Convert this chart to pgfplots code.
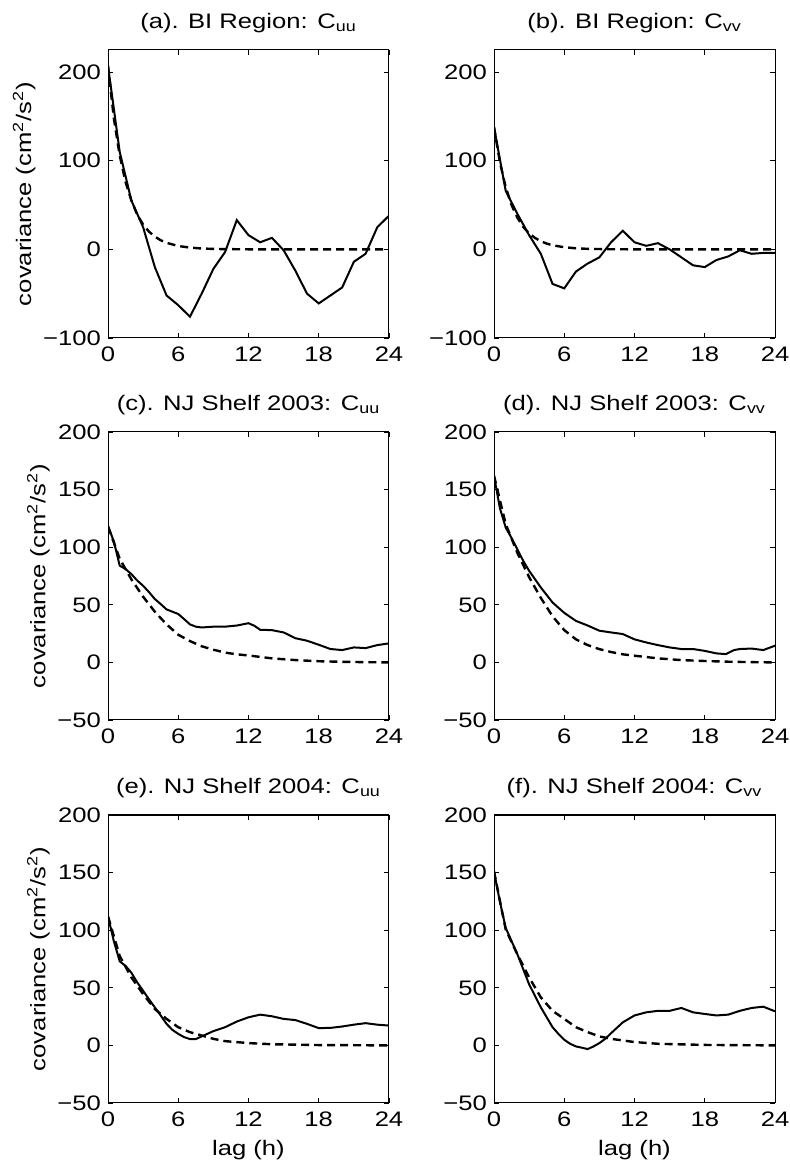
\documentclass[border=0pt]{standalone}
\usepackage{pgfplots}
\pgfplotsset{compat=1.18}
\usepackage{fontspec}
\setmainfont{Liberation Sans}[FakeStretch=1.22]

\pgfplotsset{
  panel/.style={
    width=140.5pt, height=144pt, scale only axis,
    anchor=south west,
    xmin=0, xmax=24,
    xtick={0,6,12,18,24},
    xticklabels={0,6,12,18,24},
    tick align=inside,
    major tick length=2.5pt,
    axis line style={line width=0.5pt},
    every tick/.style={black, line width=0.4pt},
    tick label style={font=\fontsize{10.5}{12}\selectfont},
    xticklabel style={yshift=-1pt},
    label style={font=\fontsize{10.5}{12}\selectfont},
    ylabel style={yshift=-3pt},
    title style={font=\fontsize{10.5}{12}\selectfont, yshift=-1pt},
  },
  covA/.style={ymin=-100, ymax=225, ytick={-100,0,100,200}, yticklabels={−100,0,100,200}},
  covB/.style={ymin=-50, ymax=200, ytick={-50,0,50,100,150,200}, yticklabels={−50,0,50,100,150,200}},
  obs/.style={black, line width=1pt, no marks},
  fit/.style={black, line width=1.2pt, no marks, dash pattern=on 4pt off 2.5pt},
}
\newcommand{\covlabel}{covariance (cm\textsuperscript{2}/s\textsuperscript{2})}

\begin{document}
\begin{tikzpicture}
\path[use as bounding box] (0,0) rectangle (394.5pt,582.5pt);

% (a) BI Region Cuu
\begin{axis}[panel, covA, at={(54pt,413.5pt)},
    title={(a). BI Region: C\textsubscript{uu}}, ylabel={\covlabel}]
\addplot[fit] coordinates {
(0,207)(0.5,148)(1,106)(1.5,76)(2,55)(2.5,39)(3,28)(3.5,20)(4,14.4)(4.5,10.3)
(5,7.4)(6,3.8)(7,2.0)(8,1.0)(9,0.5)(10,0.26)(12,0.07)(24,0)};
\addplot[obs] coordinates {
(0,207)(1,110)(2,55)(3,25)(4,-20)(5,-52)(6,-63)(7,-76)(8,-50)(9,-22)
(10,-3)(11,33)(12,16)(13,8)(14,13)(15,-1)(16,-24)(17,-50)(18,-61)(19,-52)
(20,-43)(21,-14)(22,-5)(23,25)(24,38)};
\end{axis}

% (b) BI Region Cvv
\begin{axis}[panel, covA, at={(247pt,413.5pt)},
    title={(b). BI Region: C\textsubscript{vv}}]
\addplot[fit] coordinates {
(0,138)(0.5,98.5)(1,70)(1.5,50)(2,35.6)(2.5,25.3)(3,18)(3.5,12.9)(4,9.2)(4.5,6.5)
(5,4.6)(6,2.4)(7,1.2)(8,0.6)(10,0.15)(12,0.04)(24,0)};
\addplot[obs] coordinates {
(0,138)(1,66)(2,40)(3,16)(4,-5)(5,-39)(6,-44)(7,-25)(8,-16)(9,-9)
(10,8)(11,21)(12,8)(13,4)(14,7)(15,0)(16,-9)(17,-18)(18,-20)(19,-12)
(20,-8)(21,-1)(22,-5)(23,-4)(24,-4)};
\end{axis}

% (c) NJ Shelf 2003 Cuu
\begin{axis}[panel, covB, at={(54pt,222.5pt)},
    title={(c). NJ Shelf 2003: C\textsubscript{uu}}, ylabel={\covlabel}]
\addplot[fit] coordinates {
(0,118)(1,90)(2,72)(3,57)(4,44)(5,33)(6,24)(7,18.5)(8,14)(9,11)(10,8.5)
(11,7)(12,6)(14,3.5)(16,2)(18,1)(20,0.5)(22,0.2)(24,0)};
\addplot[obs] coordinates {
(0,118.5)(0.5,105)(1,84)(1.5,81)(2,76.6)(2.5,71)(3,66.5)(3.5,61)(4,55)(4.5,50.6)
(5,46)(5.5,44)(6,42)(6.5,37.6)(7,33)(7.5,31)(8,30.3)(9,31)(10,31)(11,32)
(11.5,33)(12,34)(12.5,31.8)(13,28.3)(14,28)(15,26)(16,21)(17,18.8)(18,15.3)(19,11.6)
(20,10.7)(21,13)(22,12.4)(23,15)(24,16.5)};
\end{axis}

% (d) NJ Shelf 2003 Cvv
\begin{axis}[panel, covB, at={(247pt,222.5pt)},
    title={(d). NJ Shelf 2003: C\textsubscript{vv}}]
\addplot[fit] coordinates {
(0,162)(1,120)(2,95)(3,74)(4,56)(5,40)(6,28)(7,20)(8,15)(9,11.5)(10,9)
(11,7)(12,5.8)(14,3.5)(16,2)(18,1.2)(20,0.6)(22,0.2)(24,0)};
\addplot[obs] coordinates {
(0,162)(0.5,134)(1,117)(1.5,108)(2,98)(2.5,88)(3,79.5)(4,65)(5,52)(6,43)
(7,36)(8,32)(9,27.5)(10,26)(11,24.6)(12,20)(13,17.3)(14,15)(15,13)(16,11.6)
(17,11.6)(18,10)(19,7.8)(19.8,7.2)(20.5,10.7)(21,11.6)(22,12)(23,10.7)(24,14.5)};
\end{axis}

% (e) NJ Shelf 2004 Cuu
\begin{axis}[panel, covB, at={(54pt,31pt)},
    title={(e). NJ Shelf 2004: C\textsubscript{uu}}, ylabel={\covlabel}, xlabel={lag (h)}]
\addplot[fit] coordinates {
(0,112)(1,77.6)(2,59)(3,44.5)(4,31.6)(5,23)(6,15.8)(7,11.5)(8,8.6)(9,5.7)
(10,3.7)(12,2)(14,1)(18,0.3)(24,0)};
\addplot[obs] coordinates {
(0,112)(0.5,90.5)(1,73)(1.5,69)(2,63)(2.5,54.6)(3,47.4)(3.5,40)(4,33)(4.5,26)
(5,18.7)(5.5,13.5)(6,10)(6.5,7.2)(7,5.5)(7.5,5.5)(8,7.8)(9,12.4)(10,15.8)(11,20.7)
(12,24.4)(13,26.7)(14,25.3)(15,23)(16,22)(17,18.7)(18,15)(19,15.2)(20,16.4)(21,18)
(22,19.3)(23,18)(24,17.2)};
\end{axis}

% (f) NJ Shelf 2004 Cvv
\begin{axis}[panel, covB, at={(247pt,31pt)},
    title={(f). NJ Shelf 2004: C\textsubscript{vv}}, xlabel={lag (h)}]
\addplot[fit] coordinates {
(0,151)(1,100.5)(2,79)(3,59)(4,41.7)(5,30)(6,23)(7,15.8)(8,11.5)(9,7.8)
(10,5.7)(12,2.9)(14,1.4)(18,0.4)(24,0)};
\addplot[obs] coordinates {
(0,151)(0.5,125)(1,102)(1.5,90.5)(2,79)(2.5,66)(3,53)(3.5,43)(4,33)(4.5,24.4)
(5,15.8)(5.5,10)(6,4.9)(6.5,1.4)(7,-0.9)(7.5,-2)(8,-3.2)(8.5,-0.9)(9,2)(9.5,5.7)
(10,10.6)(11,20)(12,26)(13,28.7)(14,30)(15,30)(16,32.5)(17,28.7)(18,27.3)(19,26)
(20,26.7)(21,30)(22,32.5)(23,33.6)(24,29.6)};
\end{axis}
\end{tikzpicture}
\end{document}
